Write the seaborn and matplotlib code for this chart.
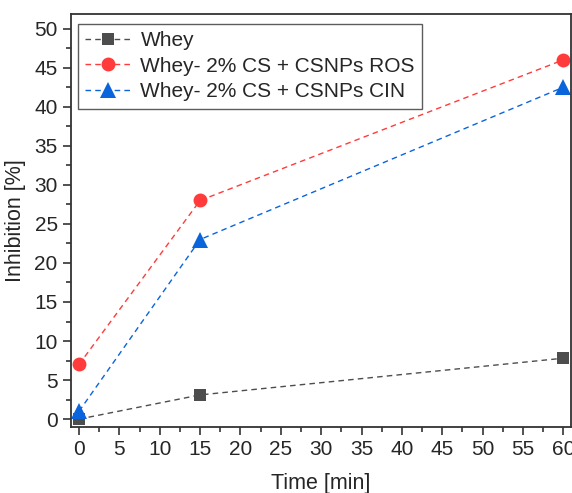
import numpy as np
import pandas as pd
import seaborn as sns
import matplotlib.pyplot as plt
from matplotlib.ticker import MultipleLocator

# data
time_min = [0, 15, 60]
whey = [0.0, 3.1, 7.8]
whey_ros = [7.0, 28.0, 46.0]
whey_cin = [1.0, 23.0, 42.5]

series_names = ["Whey", "Whey- 2% CS + CSNPs ROS", "Whey- 2% CS + CSNPs CIN"]
series_values = [whey, whey_ros, whey_cin]
colors = ["#4d4d4d", "#ff3b3b", "#0a64dc"]
markers = ["s", "o", "^"]

sns.set_style("ticks")
plt.rcParams['font.family'] = ['Liberation Sans', 'DejaVu Sans']

fig, ax = plt.subplots(figsize=(5.72, 4.93), dpi=100)
fig.subplots_adjust(left=0.124, right=0.999, top=0.972, bottom=0.134)

for name, vals, col, mk in zip(series_names, series_values, colors, markers):
    df = pd.DataFrame({"t": time_min, "v": vals})
    sns.lineplot(data=df, x="t", y="v", ax=ax, color=col, marker=mk,
                 markersize={"s": 9, "o": 10, "^": 11}[mk], markeredgewidth=0,
                 linestyle=(0, (4, 3)), linewidth=1.0, label=name)

ax.set_xlim(-1, 61)
ax.set_ylim(-1, 51.9)
ax.xaxis.set_major_locator(MultipleLocator(5))
ax.xaxis.set_minor_locator(MultipleLocator(2.5))
ax.yaxis.set_major_locator(MultipleLocator(5))
ax.yaxis.set_minor_locator(MultipleLocator(2.5))
ax.tick_params(which="major", direction="out", length=6, width=1.2, labelsize=15, color="#333333")
ax.tick_params(which="minor", direction="out", length=3.5, width=1.2, color="#333333")
for s in ax.spines.values():
    s.set_linewidth(1.3)
    s.set_color("#333333")

ax.set_xlabel("Time [min]", fontsize=15.5, labelpad=10)
ax.set_ylabel("Inhibition [%]", fontsize=15.5, labelpad=6)

leg = ax.legend(loc="upper left", bbox_to_anchor=(0.014, 0.976), fontsize=15,
                frameon=True, fancybox=False, edgecolor="#333333",
                handlelength=2.2, borderpad=0.35, labelspacing=0.32,
                handletextpad=0.45, borderaxespad=0)
leg.get_frame().set_linewidth(1.0)

fig.savefig("out.png", dpi=100)
